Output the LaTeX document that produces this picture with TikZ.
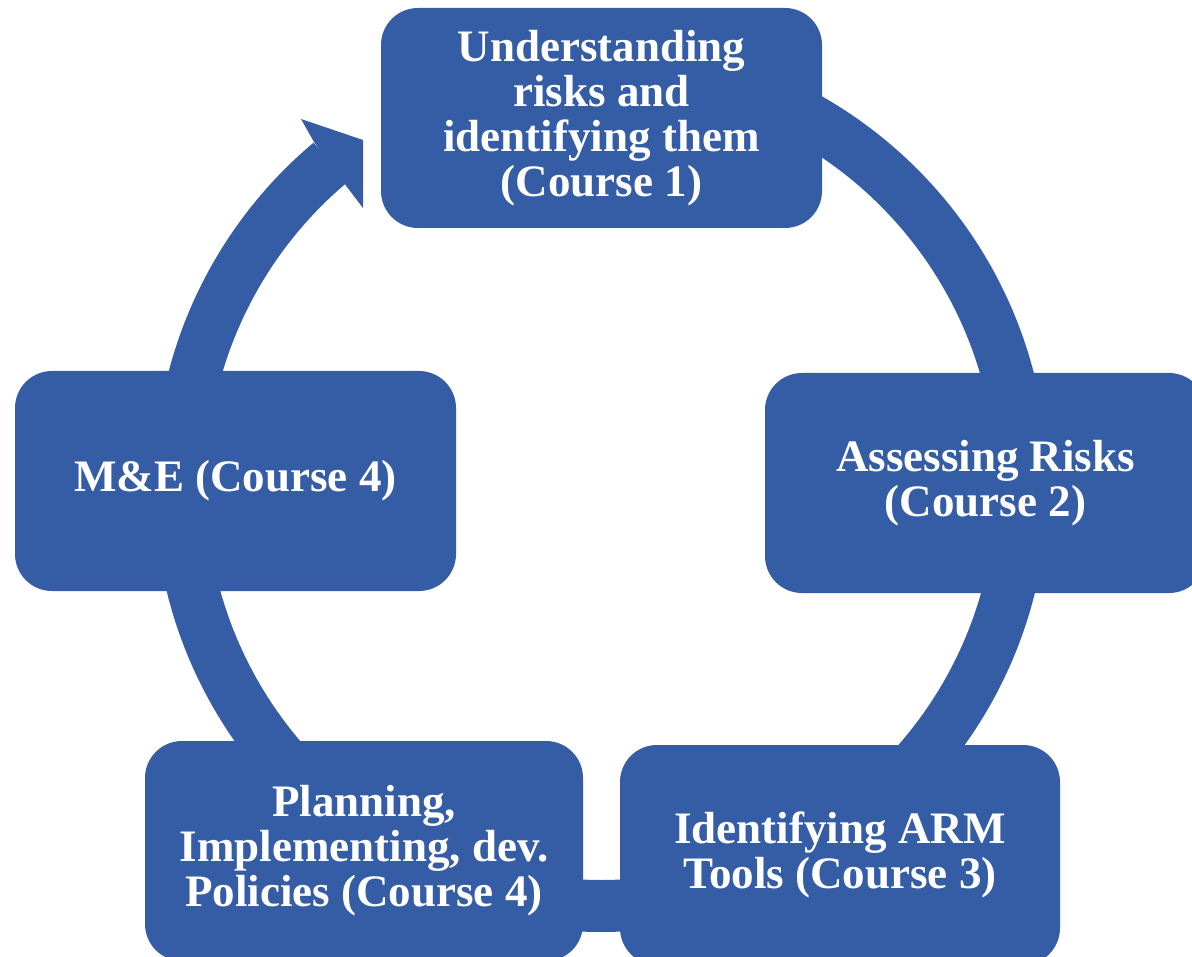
\documentclass[tikz,border=0pt]{standalone}
\usepackage{fontspec}
\setmainfont{Liberation Serif}
\definecolor{cyc}{RGB}{53,93,165}
\begin{document}
\begin{tikzpicture}[x=1pt,y=-1pt,
  stage/.style={fill=cyc, rounded corners=37pt, minimum height=220pt,
    inner sep=0pt, align=center, text=white,
    font=\bfseries\fontsize{45}{45}\selectfont},
  ringband/.style={draw=cyc, line width=52pt}]
\clip (0,0) rectangle (1192,957);
\fill[white] (0,0) rectangle (1192,957);
% circular band (clockwise from the top box to the arrow head)
\coordinate (ctr) at (601,485);
\draw[ringband] ([shift={(270:421)}]ctr) arc[start angle=270, end angle=590, radius=421];
% arrow head, cut before the first box
\fill[cyc] (301,119) -- (363,140) -- (363,208) -- (347,187) -- (330,165) -- (314,142) -- cycle;
% stages
\node[stage, minimum width=441pt] (s1) at (601.5,118) {Understanding\\risks and\\identifying them\\(Course 1)};
\node[stage, minimum width=441pt] (s2) at (985.5,483) {Assessing Risks\\(Course 2)};
\node[stage, minimum width=440pt] (s3) at (840,855) {Identifying ARM\\Tools (Course 3)};
\node[stage, minimum width=438pt] (s4) at (364,851) {Planning,\\Implementing, dev.\\Policies (Course 4)};
\node[stage, minimum width=441pt] (s5) at (235.5,481) {M\&E (Course 4)};
\end{tikzpicture}
\end{document}
